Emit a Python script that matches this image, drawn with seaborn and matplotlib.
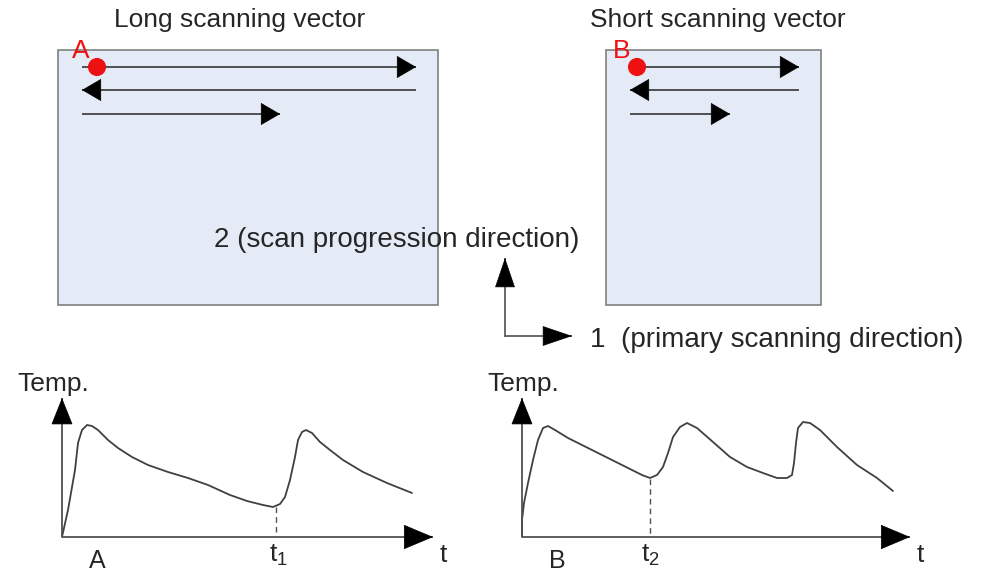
import numpy as np
import pandas as pd
import matplotlib
matplotlib.use("Agg")
import matplotlib.pyplot as plt
import seaborn as sns
from matplotlib.patches import Rectangle

# temperature curves (pixel space of the figure)
long_t = [62, 68, 75, 78, 82, 87, 92, 98, 108, 118, 132, 148, 168, 188, 208, 230,
          247, 263, 273, 280, 285, 290, 295, 298, 302, 306, 312, 320, 330, 343, 363, 387, 412]
long_temp = [537, 510, 470, 443, 430, 425, 426, 430, 440, 448, 457, 465, 472, 478, 485, 495,
             501, 505, 507, 504, 497, 480, 457, 440, 432, 430, 433, 442, 450, 460, 472, 483, 493]

short_t = [522, 522, 524, 528, 533, 538, 543, 548, 555, 568, 588, 608, 628, 642, 650, 657,
           663, 668, 673, 680, 687, 697, 705, 713, 730, 747, 763, 777, 787, 792, 794, 796,
           798, 803, 810, 820, 837, 857, 877, 893]
short_temp = [537, 520, 503, 483, 460, 440, 428, 426, 430, 438, 448, 458, 468, 475, 478, 475,
              467, 453, 437, 427, 423, 428, 435, 442, 457, 467, 473, 478, 478, 475, 463, 443,
              428, 422, 423, 430, 447, 465, 478, 491]

sns.set_style("white")
plt.rcParams['font.family'] = ['Liberation Sans', 'DejaVu Sans']
plt.rcParams['mathtext.fontset'] = 'custom'
plt.rcParams['mathtext.rm'] = 'Liberation Sans'
plt.rcParams['mathtext.it'] = 'Liberation Sans'

fig = plt.figure(figsize=(9.82, 5.74), dpi=100)
ax = fig.add_axes([0, 0, 1, 1])
ax.set_xlim(0, 982)
ax.set_ylim(574, 0)
ax.axis('off')

FILL = '#e5ebf6'
EDGE = '#808080'
LINE = '#505050'
RED = '#ee1111'


def arrow(x0, y0, x1, y1, shaft='black', lw=1.2, hl=0.9, hw=0.3):
    # shaft and head drawn apart so the head can stay solid black
    ax.plot([x0, x1], [y0, y1], color=shaft, lw=lw, solid_capstyle='butt')
    dx, dy = x1 - x0, y1 - y0
    n = np.hypot(dx, dy)
    ax.annotate('', xy=(x1, y1), xytext=(x1 - dx / n * 2, y1 - dy / n * 2),
                arrowprops=dict(arrowstyle=f'-|>,head_length={hl},head_width={hw}',
                                color='black', lw=0.5, mutation_scale=20,
                                shrinkA=0, shrinkB=0))


# scan fields
for (x0, x1, label, short_end, dot_dx, lbl_dx) in [(58, 438, 'A', 280, 39, 23),
                                                   (606, 821, 'B', 730, 31, 16)]:
    ax.add_patch(Rectangle((x0, 50), x1 - x0, 255, facecolor=FILL, edgecolor=EDGE, lw=1.2))
    left, right = x0 + 24, x1 - 22
    arrow(left, 67, right, 67, shaft=LINE, lw=1.4, hl=0.65, hw=0.38)
    arrow(right, 90, left, 90, shaft=LINE, lw=1.4, hl=0.65, hw=0.38)
    arrow(left, 114, short_end, 114, shaft=LINE, lw=1.4, hl=0.65, hw=0.38)
    dot = pd.DataFrame({'x': [x0 + dot_dx], 'y': [67]})
    sns.scatterplot(data=dot, x='x', y='y', ax=ax, s=170, color=RED, edgecolor='none',
                    zorder=5, legend=False)
    ax.text(x0 + lbl_dx, 51, label, color=RED, fontsize=19, ha='center', va='center')

ax.text(240, 20, 'Long scanning vector', fontsize=19, ha='center', va='center')
ax.text(718, 20, 'Short scanning vector', fontsize=19, ha='center', va='center')

# direction indicator
arrow(505, 337, 505, 258, shaft=LINE, lw=1.2, hl=1.0, hw=0.34)
arrow(505, 336, 572, 336, shaft=LINE, lw=1.2, hl=1.0, hw=0.34)
ax.text(397, 240, '2 (scan progression direction)', fontsize=20, ha='center', va='center')
ax.text(590, 340, '1  (primary scanning direction)', fontsize=20, ha='left', va='center')

# temperature histories
curves = pd.concat([
    pd.DataFrame({'t': long_t, 'temp': long_temp, 'case': 'A'}),
    pd.DataFrame({'t': short_t, 'temp': short_temp, 'case': 'B'}),
])
sns.lineplot(data=curves, x='t', y='temp', units='case', estimator=None, sort=False,
             color='#404040', lw=1.3, ax=ax, legend=False,
             solid_joinstyle='round', solid_capstyle='round')

for (ox, tip_x, start_lbl, sub_x, sub, temp_x) in [(62, 433, 'A', 278, '1', 17),
                                                    (522, 910, 'B', 650, '2', 487)]:
    arrow(ox, 537, ox, 398, shaft=LINE, lw=1.3, hl=0.9, hw=0.36)
    arrow(ox, 537, tip_x, 537, shaft=LINE, lw=1.3, hl=1.0, hw=0.42)
    ax.text(temp_x, 384, 'Temp.', fontsize=19, ha='left', va='center')
    ax.text(tip_x + 10, 555, 't', fontsize=19, ha='center', va='center')
    ax.text(ox + 35, 561, start_lbl, fontsize=18, ha='center', va='center')
    ax.text(sub_x, 555, 't$_{' + sub + '}$', fontsize=19, ha='center', va='center')

# dashed markers at local minima
ax.plot([276, 276], [507, 537], color='#505050', lw=1, ls=(0, (4, 3)))
ax.plot([650, 650], [479, 537], color='#505050', lw=1, ls=(0, (4, 3)))

fig.savefig('out.png', dpi=100, facecolor='white')
